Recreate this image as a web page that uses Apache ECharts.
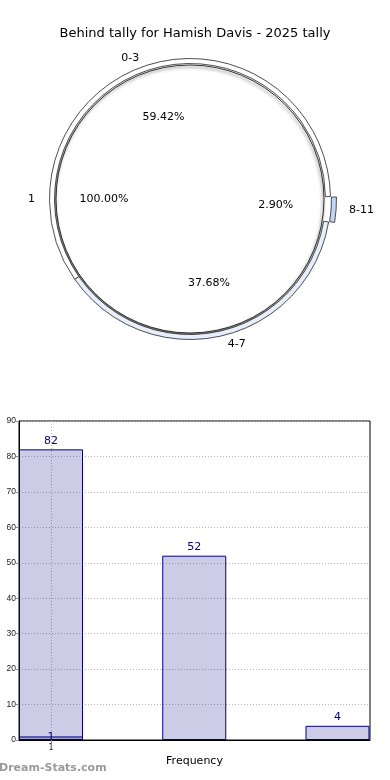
<!DOCTYPE html>
<html><head><meta charset="utf-8">
<script src="https://cdn.jsdelivr.net/npm/echarts@6/dist/echarts.min.js"></script>
<style>html,body{margin:0;padding:0;background:#fff}#c{width:390px;height:780px}</style>
</head><body><div id="c"></div>
<script>
var title = 'Behind tally for Hamish Davis - 2025 tally';
var innerNames = ['1'];
var innerValues = [1];
var ringNames = ['0-3', '4-7', '8-11'];
var ringValues = [82, 52, 4];
var barPositions = [0, 1, 2];
var barValues = [82, 52, 4];
var smallBarPositions = [0];
var smallBarValues = [1];
var yTicks = [0, 10, 20, 30, 40, 50, 60, 70, 80, 90];
var xTickValues = [0];
var xTickLabels = ['1'];
var xAxisName = 'Frequency';

var ringColors = ['#ffffff', '#e8eefb', '#c5d6f5'];
var font = 'DejaVu Sans';
var pctFmt = function (p) { return p.percent.toFixed(2) + '%'; };
var center = [190, 199];
var barFill = 'rgba(0,0,128,0.2)';

var chart = echarts.init(document.getElementById('c'), null, {renderer: 'canvas'});
chart.setOption({
  backgroundColor: '#fff',
  animation: false,
  title: {text: title, left: 'center', top: 22,
    textStyle: {fontFamily: font, fontSize: 13, fontWeight: 'normal', color: '#000'}},
  graphic: [{type: 'text', left: -1, top: 763,
    style: {text: 'Dream-Stats.com', fill: '#9a9a9a', font: 'bold 11px "DejaVu Sans"'}}],
  grid: {left: 19, right: 20, top: 421, bottom: 40, show: true, borderColor: '#000', borderWidth: 1},
  xAxis: {type: 'value', min: -0.2234, max: 2.227,
    name: xAxisName, nameLocation: 'middle', nameGap: 16,
    nameTextStyle: {fontFamily: font, fontSize: 11, color: '#000'},
    axisLine: {show: true, onZero: false, lineStyle: {color: '#000'}},
    axisTick: {show: true, customValues: xTickValues, length: 3, lineStyle: {color: '#888'}},
    axisLabel: {customValues: xTickValues, formatter: function (v) { return xTickLabels[xTickValues.indexOf(v)]; },
      fontFamily: font, fontSize: 8, color: '#222', margin: 4},
    splitLine: {show: true, customValues: xTickValues, lineStyle: {color: '#b4b4b4', type: [1, 2]}}},
  yAxis: {type: 'value', min: 0, max: 90, interval: 10,
    axisLine: {show: true, onZero: false, lineStyle: {color: '#000'}},
    axisTick: {show: true, length: 3, lineStyle: {color: '#888'}},
    axisLabel: {fontFamily: 'Liberation Sans', fontSize: 8.5, color: '#222', margin: 3},
    splitLine: {show: true, lineStyle: {color: '#b4b4b4', type: [1, 2]}}},
  series: [
    {type: 'pie', radius: [0, 134], center: center, startAngle: 0, clockwise: false,
      silent: true, z: 2,
      data: innerNames.map(function (n, i) { return {name: n, value: innerValues[i]}; }),
      itemStyle: {color: '#fff', borderColor: '#333', borderWidth: 1,
        shadowColor: 'rgba(0,0,0,0.55)', shadowBlur: 3, shadowOffsetX: -1, shadowOffsetY: 2},
      label: {position: 'outside', formatter: '{b}', fontFamily: font, fontSize: 11, color: '#000'},
      labelLine: {show: false, length: 16, length2: 0}},
    {type: 'pie', radius: [0, 166], center: center, startAngle: 0, clockwise: false,
      silent: true, z: 5,
      data: innerNames.map(function (n, i) { return {name: n, value: innerValues[i]}; }),
      itemStyle: {color: 'rgba(0,0,0,0)', borderWidth: 0},
      label: {position: 'inside', formatter: pctFmt, fontFamily: font, fontSize: 11, color: '#000'}},
    {type: 'pie', radius: [135.5, 140.5], center: center, startAngle: 1, clockwise: false,
      silent: true, z: 3, selectedMode: 'single', selectedOffset: 6,
      data: ringNames.map(function (n, i) {
        return {name: n, value: ringValues[i], selected: i === 2,
          itemStyle: {color: ringColors[i]}};
      }),
      itemStyle: {borderColor: '#222', borderWidth: 0.8},
      label: {position: 'outside', formatter: '{b}', fontFamily: font, fontSize: 11, color: '#000'},
      labelLine: {show: false, length: 8, length2: 0}},
    {type: 'pie', radius: [0, 166], center: center, startAngle: 1, clockwise: false,
      silent: true, z: 5,
      data: ringNames.map(function (n, i) { return {name: n, value: ringValues[i]}; }),
      itemStyle: {color: 'rgba(0,0,0,0)', borderWidth: 0},
      label: {position: 'inside', formatter: pctFmt, fontFamily: font, fontSize: 11, color: '#000'}},
    {type: 'bar', barWidth: 64, barGap: '-100%',
      data: barPositions.map(function (x, i) { return [x, barValues[i]]; }),
      itemStyle: {color: barFill, borderColor: '#000080', borderWidth: 1},
      label: {show: true, position: 'top', distance: 3, fontFamily: font, fontSize: 11, color: '#000080',
        formatter: function (p) { return p.value[1]; }}},
    {type: 'bar', barWidth: 64, barGap: '-100%',
      data: smallBarPositions.map(function (x, i) { return [x, smallBarValues[i]]; }),
      itemStyle: {color: barFill, borderColor: '#000080', borderWidth: 1},
      label: {show: true, position: 'top', distance: -6, fontFamily: font, fontSize: 11, color: '#000080',
        formatter: function (p) { return p.value[1]; }}}
  ]
});
</script></body></html>
